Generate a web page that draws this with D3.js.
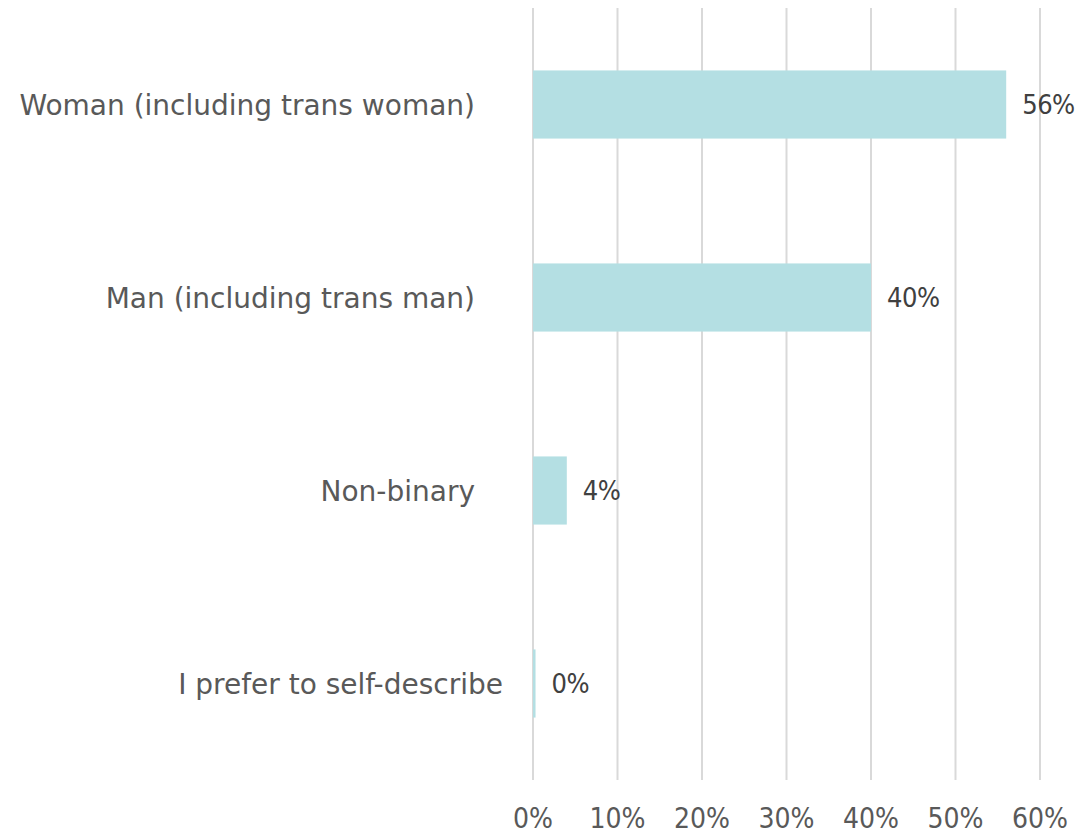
<!DOCTYPE html>
<html lang="en">
  <head>
    <meta charset="UTF-8" />
    <title>Gender</title>
    <script src="https://d3js.org/d3.v7.min.js"></script>
    <style>
      body { margin: 0; background: #fff; }
      text { font-family: "DejaVu Sans Condensed", "DejaVu Sans", sans-serif; }
      .cat { font-family: "DejaVu Sans", sans-serif; }
    </style>
  </head>
  <body>
    <svg id="chart"></svg>
    <script>
      const WIDTH = 1076;
      const HEIGHT = 837;

      // data
      const categories = [
        "Woman (including trans woman)",
        "Man (including trans man)",
        "Non-binary",
        "I prefer to self-describe",
      ];
      const values = [56, 40, 4, 0.3];
      const valueLabels = ["56%", "40%", "4%", "0%"];
      const ticks = [0, 10, 20, 30, 40, 50, 60];

      const margin = { top: 8, right: 36, bottom: 57, left: 533 };

      const svg = d3.select("#chart").attr("width", WIDTH).attr("height", HEIGHT);

      const x = d3.scaleLinear()
        .domain([0, 60])
        .range([margin.left, WIDTH - margin.right]);

      const y = d3.scaleBand()
        .domain(categories)
        .range([margin.top, HEIGHT - margin.bottom])
        .paddingInner(0.647)
        .paddingOuter(0.3235);

      // gridlines
      svg.append("g")
        .selectAll("line")
        .data(ticks)
        .enter()
        .append("line")
        .attr("x1", (d) => x(d))
        .attr("x2", (d) => x(d))
        .attr("y1", margin.top)
        .attr("y2", HEIGHT - margin.bottom)
        .style("stroke", "#d9d9d9")
        .style("stroke-width", 2);

      // tick labels
      svg.append("g")
        .selectAll("text")
        .data(ticks)
        .enter()
        .append("text")
        .attr("x", (d) => x(d))
        .attr("y", 828)
        .attr("text-anchor", "middle")
        .style("font-size", "28px")
        .style("fill", "#595959")
        .text((d) => d + "%");

      // bars
      svg.append("g")
        .selectAll("rect")
        .data(categories)
        .enter()
        .append("rect")
        .attr("x", x(0))
        .attr("y", (d) => y(d))
        .attr("width", (d, i) => x(values[i]) - x(0))
        .attr("height", y.bandwidth())
        .style("fill", "#b4dfe3");

      // value labels
      svg.append("g")
        .selectAll("text")
        .data(categories)
        .enter()
        .append("text")
        .attr("x", (d, i) => x(values[i]) + 16)
        .attr("y", (d) => y(d) + y.bandwidth() / 2)
        .attr("dy", "0.36em")
        .style("font-size", "27px")
        .style("letter-spacing", "-0.5px")
        .style("fill", "#404040")
        .text((d, i) => valueLabels[i]);

      // category labels (the last one sits a bit further right, as in Excel)
      svg.append("g")
        .selectAll("text")
        .data(categories)
        .enter()
        .append("text")
        .classed("cat", true)
        .attr("x", (d, i) => (i === categories.length - 1 ? 503 : 475))
        .attr("y", (d) => y(d) + y.bandwidth() / 2)
        .attr("dy", "0.36em")
        .attr("text-anchor", "end")
        .style("font-size", "28px")
        .style("fill", "#595959")
        .text((d) => d);
    </script>
  </body>
</html>
